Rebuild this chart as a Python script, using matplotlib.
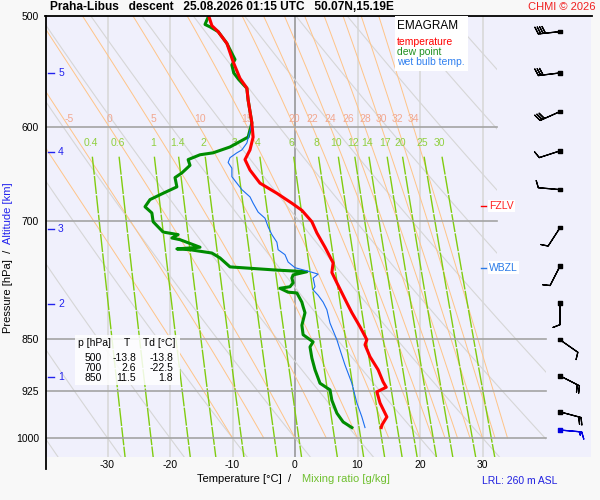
import numpy as np
import matplotlib
matplotlib.use("Agg")
import matplotlib.pyplot as plt
from matplotlib.lines import Line2D
from matplotlib.patches import Rectangle, Polygon

plt.rcParams['font.family'] = ['Liberation Sans', 'DejaVu Sans']

# --- sounding ---
temp_p = [500, 508, 513, 523, 539, 554, 563, 574, 596, 610, 623, 633, 644, 658, 669,
          680, 688, 701, 714, 731, 750, 762, 775, 801, 814, 833, 851, 858, 875, 894,
          912, 920, 927, 944, 966, 979, 983]
temp_t = [-13.8, -13.3, -12.3, -10.9, -9.9, -8.8, -7.7, -7.5, -6.9, -6.7, -7.2, -8.0, -7.2, -5.6, -2.9,
          -0.5, 1.1, 2.7, 3.5, 4.8, 6.1, 5.9, 6.7, 8.3, 9.1, 10.4, 11.5, 11.2, 12.0, 13.3,
          14.1, 14.6, 13.1, 13.6, 14.7, 13.9, 13.8]

dew_p = [500, 501, 507, 509, 513, 523, 537, 542, 549, 555, 560, 563, 574, 596, 610,
         620, 626, 628, 633, 639, 647, 652, 662, 669, 676, 684, 691, 701, 713, 716,
         720, 722, 731, 733, 734, 738, 744, 755, 759, 761, 765, 769, 775, 780, 782,
         787, 788, 800, 806, 814, 831, 844, 854, 861, 877, 894, 914, 924, 940, 960,
         974, 983]
dew_t = [-13.8, -13.9, -14.4, -13.6, -12.3, -10.9, -9.6, -10.1, -9.8, -9.0, -8.2, -7.7, -7.5, -6.9, -7.5,
         -10.4, -13.1, -15.2, -17.1, -16.8, -18.1, -19.2, -18.9, -21.1, -23.2, -24.0, -22.9, -22.7, -21.1, -18.7,
         -19.7, -18.4, -15.2, -18.9, -16.8, -13.3, -12.0, -10.4, -2.9, 1.9, -0.3, -0.5, -0.3, -0.8, -2.4,
         -1.1, 0.3, 1.1, 1.3, 1.6, 1.1, 1.3, 2.9, 2.4, 2.7, 3.2, 4.0, 5.6, 5.9, 6.7,
         7.7, 9.1]

wb_p = [500, 505, 510, 513, 523, 539, 554, 563, 574, 596, 611, 616, 623, 626, 631,
        636, 642, 651, 658, 665, 673, 680, 690, 697, 707, 716, 725, 734, 740, 749,
        756, 761, 764, 769, 780, 784, 791, 800, 810, 828, 851, 865, 887, 914, 944,
        966, 983]
wb_t = [-13.8, -13.6, -13.0, -12.3, -10.9, -9.9, -8.8, -7.7, -7.5, -6.9, -7.5, -7.7, -8.5, -9.3, -10.4,
        -10.7, -10.1, -10.1, -9.3, -8.5, -7.2, -6.7, -5.9, -4.8, -4.3, -3.7, -2.9, -2.7, -1.6, -1.1,
        0.0, 2.4, 3.7, 2.9, 3.2, 2.9, 3.7, 4.5, 5.1, 5.6, 6.7, 7.2, 8.0, 9.1, 9.9,
        10.7, 11.2]

wind_p = [513, 549, 585, 624, 665, 708, 754, 801, 851, 903, 958, 987]
wind_dir = [264, 263, 246, 252, 275, 213, 207, 180, 125, 117, 105, 95]
wind_kt = [40, 30, 30, 10, 10, 10, 10, 10, 10, 20, 20, 15]

alt_km = [1, 2, 3, 4, 5]
alt_p = [905, 803, 709, 625, 549]

fzlv_p = 683
wbzl_p = 756

table_p = ['500', '700', '850']
table_t = ['-13.8', '2.6', '11.5']
table_td = ['-13.8', '-22.5', '1.8']

# background line families
isobars = [600, 700, 850, 925, 1000]
isotherms = [-30, -20, -10, 0, 10, 20, 30]
dry_t1000 = list(range(-40, 110, 10))
moist_tw = [-10, -5, 0, 5, 10, 15, 20, 22, 24, 26, 28, 30, 32, 34]
mix_ratio = [0.4, 0.6, 1, 1.4, 2, 3, 4, 6, 8, 10, 12, 14, 17, 20, 25, 30]
mix_labels = ['0.4', '0.6', '1', '1.4', '2', '3', '4', '6', '8', '10', '12', '14', '17', '20', '25', '30']


def t_from_e(e):
    a = np.log(e / 6.112)
    return 243.5 * a / (17.67 - a)


def lapse(tk, p):
    rd, cp, lv, eps = 287.04, 1005.7, 2.501e6, 0.622
    tc = tk - 273.15
    es = 6.112 * np.exp(17.67 * tc / (tc + 243.5))
    rs = eps * es / (p - es)
    return (rd * tk + lv * rs) / (p * (cp + lv * lv * rs * eps / (rd * tk * tk)))


def moist_lines(tw, plev):
    tk = np.array(tw, dtype=float) + 273.15
    out = [tk.copy()]
    for i in range(1, len(plev)):
        p0 = plev[i - 1]
        dp = plev[i] - p0
        k1 = lapse(tk, p0)
        k2 = lapse(tk + 0.5 * dp * k1, p0 + 0.5 * dp)
        k3 = lapse(tk + 0.5 * dp * k2, p0 + 0.5 * dp)
        k4 = lapse(tk + dp * k3, p0 + dp)
        tk = tk + dp * (k1 + 2 * k2 + 2 * k3 + k4) / 6
        out.append(tk.copy())
    return np.array(out) - 273.15


W, H = 600, 500
fig = plt.figure(figsize=(6, 5), dpi=100, facecolor='#f8f8f8')
ax = fig.add_axes([46 / W, 43 / H, 545 / W, 441 / H])
ax.set_facecolor('#f0f0fc')
ax.set_yscale('log')
ax.set_ylim(1031.7, 500)
ax.set_xlim(-39.84, 47.36)
for s in ax.spines.values():
    s.set_visible(False)

clip = Polygon([(-45, 480), (32.3, 480), (32.3, 820), (40.2, 820), (40.2, 1100), (-45, 1100)],
               closed=True, facecolor='none', edgecolor='none')
ax.add_patch(clip)

# isotherms
for t in isotherms:
    ax.axvline(t, color='#909090' if t == 0 else '#d6d6d6', lw=1.1, zorder=1)

# dry adiabats
p_dry = np.linspace(500, 1035, 200)
for t0 in dry_t1000:
    tt = (t0 + 273.15) * (p_dry / 1000) ** 0.2857 - 273.15
    ln, = ax.plot(tt, p_dry, color='#d6d6d6', lw=0.8, zorder=1)
    ln.set_clip_path(clip)

# moist adiabats
p_moist = np.linspace(1000, 500, 251)
tm = moist_lines(moist_tw, p_moist)
for j, tw in enumerate(moist_tw):
    ln, = ax.plot(tm[:, j], p_moist, color='#ffc488', lw=0.7, zorder=1)
    ln.set_clip_path(clip)
    t600 = np.interp(600, p_moist[::-1], tm[::-1, j])
    if t600 > -39:
        ax.text(t600, 597, str(tw), color='#f2a890', fontsize=7.5, ha='center', va='bottom', zorder=3)

# mixing ratio lines
p_mix = np.linspace(630, 1035, 100)
for w, lab in zip(mix_ratio, mix_labels):
    tt = t_from_e(w * p_mix / (622 + w))
    ln, = ax.plot(tt, p_mix, color='#80cc10', lw=1.0, ls=(0, (13, 1)), zorder=1)
    ln.set_clip_path(clip)
    tl = t_from_e(w * 616 / (622 + w))
    ax.text(tl, 616, lab, color='#90d040', fontsize=7.5, ha='center', va='center', zorder=3)

# isobars
for p in isobars:
    tmax = 32.3 if p < 820 else 40.2
    ax.plot([-39.84, tmax], [p, p], color='#a4a4a4', lw=1.2, zorder=2)

# profiles
ax.plot(dew_t, dew_p, color='#008c00', lw=2.2, zorder=4, solid_joinstyle='round')
ax.plot(wb_t, wb_p, color='#1a6ef0', lw=0.8, zorder=4)
ax.plot(temp_t, temp_p, color='#ff0000', lw=2.2, zorder=5, solid_joinstyle='round')

# ticks
ax.set_yticks([500, 600, 700, 850, 925, 1000])
ax.set_yticklabels(['500', '600', '700', '850', '925', '1000'])
ax.yaxis.set_minor_locator(matplotlib.ticker.NullLocator())
ax.set_xticks(isotherms)
ax.set_xticklabels([str(t) for t in isotherms])
ax.tick_params(axis='both', length=0, labelsize=7.5)
ax.tick_params(axis='y', pad=5)
ax.tick_params(axis='x', pad=2)

# altitude marks
blue = '#2222ee'
for km, p in zip(alt_km, alt_p):
    ax.plot([-39.5, -38.6], [p, p], color=blue, lw=1, clip_on=False, zorder=6)
    ax.text(-37.9, p, str(km), color=blue, fontsize=7.5, ha='left', va='center', zorder=6)

# freezing levels
ax.plot([29.8, 30.6], [fzlv_p, fzlv_p], color='#ff0000', lw=1, zorder=6)
ax.text(31.1, fzlv_p, 'FZLV', color='#ff2020', fontsize=7.5, ha='left', va='center', zorder=6,
        bbox=dict(facecolor='white', edgecolor='none', pad=1))
ax.plot([29.8, 30.6], [wbzl_p, wbzl_p], color='#2a7ae8', lw=1, zorder=6)
ax.text(31.1, wbzl_p, 'WBZL', color='#2a7ae8', fontsize=7.5, ha='left', va='center', zorder=6,
        bbox=dict(facecolor='white', edgecolor='none', pad=1))

# wind barbs
wd = np.radians(wind_dir)
u = -np.array(wind_kt) * np.sin(wd)
v = -np.array(wind_kt) * np.cos(wd)
xb = np.full(len(wind_p), 42.4)
cols = ['black'] * (len(wind_p) - 1) + ['#0000e0']
ax.barbs(xb, wind_p, u, v, length=5.6, color=cols, lw=0.9, zorder=6, clip_on=False,
         sizes=dict(spacing=0.11, height=0.32))
ax.scatter(xb, wind_p, marker='s', s=6, c=cols, zorder=7, clip_on=False)

# frame lines
fig.add_artist(Line2D([45 / W, 592 / W], [1 - 16 / H] * 2, color='black', lw=1.3))
fig.add_artist(Line2D([45.5 / W] * 2, [1 - 16 / H, 1 - 469 / H], color='black', lw=1.3))

# legend box
fig.add_artist(Rectangle((395 / W, 1 - 71 / H), 73 / W, 55 / H, transform=fig.transFigure,
                         facecolor='white', edgecolor='none', zorder=2))
fig.text(397 / W, 1 - 26 / H, 'EMAGRAM', fontsize=8.5, va='center', color='black')
fig.text(397 / W, 1 - 42 / H, 'temperature', fontsize=7.5, va='center', color='#ff0000')
fig.text(397 / W, 1 - 52 / H, 'dew point', fontsize=7.5, va='center', color='#209020')
fig.text(397 / W, 1 - 62 / H, 'wet bulb temp.', fontsize=7.5, va='center', color='#3080f0')

# table box
fig.add_artist(Rectangle((75 / W, 1 - 385 / H), 105 / W, 50 / H, transform=fig.transFigure,
                         facecolor='white', alpha=0.85, edgecolor='none', zorder=2))
fig.text(78 / W, 1 - 343 / H, 'p [hPa]', fontsize=7.5, va='center')
fig.text(127 / W, 1 - 343 / H, 'T', fontsize=7.5, va='center', ha='center')
fig.text(143 / W, 1 - 343 / H, 'Td [°C]', fontsize=7.5, va='center')
for i, (a, b, c) in enumerate(zip(table_p, table_t, table_td)):
    yy = 1 - (358 + 10 * i) / H
    fig.text(102 / W, yy, a, fontsize=7.5, va='center', ha='right')
    fig.text(136 / W, yy, b, fontsize=7.5, va='center', ha='right')
    fig.text(173 / W, yy, c, fontsize=7.5, va='center', ha='right')

# titles and labels
fig.text(50 / W, 1 - 7.5 / H, 'Praha-Libus   descent   25.08.2026 01:15 UTC   50.07N,15.19E',
         fontsize=8.6, fontweight='bold', va='center')
fig.text(595 / W, 1 - 7.5 / H, 'CHMI © 2026', fontsize=8, color='#f02020', va='center', ha='right')
fig.text(8 / W, 1 - 333 / H, 'Pressure [hPa]  /', rotation=90, fontsize=8, ha='center', va='bottom')
fig.text(8 / W, 1 - 244 / H, 'Altitude [km]', rotation=90, fontsize=8, ha='center', va='bottom', color=blue)
fig.text(197 / W, 1 - 479 / H, 'Temperature [°C]  /', fontsize=8, va='center')
fig.text(302 / W, 1 - 479 / H, 'Mixing ratio [g/kg]', fontsize=8, va='center', color='#70c030')
fig.text(482 / W, 1 - 481 / H, 'LRL: 260 m ASL', fontsize=7.5, va='center', color='#2020e0')

fig.savefig('out.png', dpi=100, facecolor=fig.get_facecolor())
